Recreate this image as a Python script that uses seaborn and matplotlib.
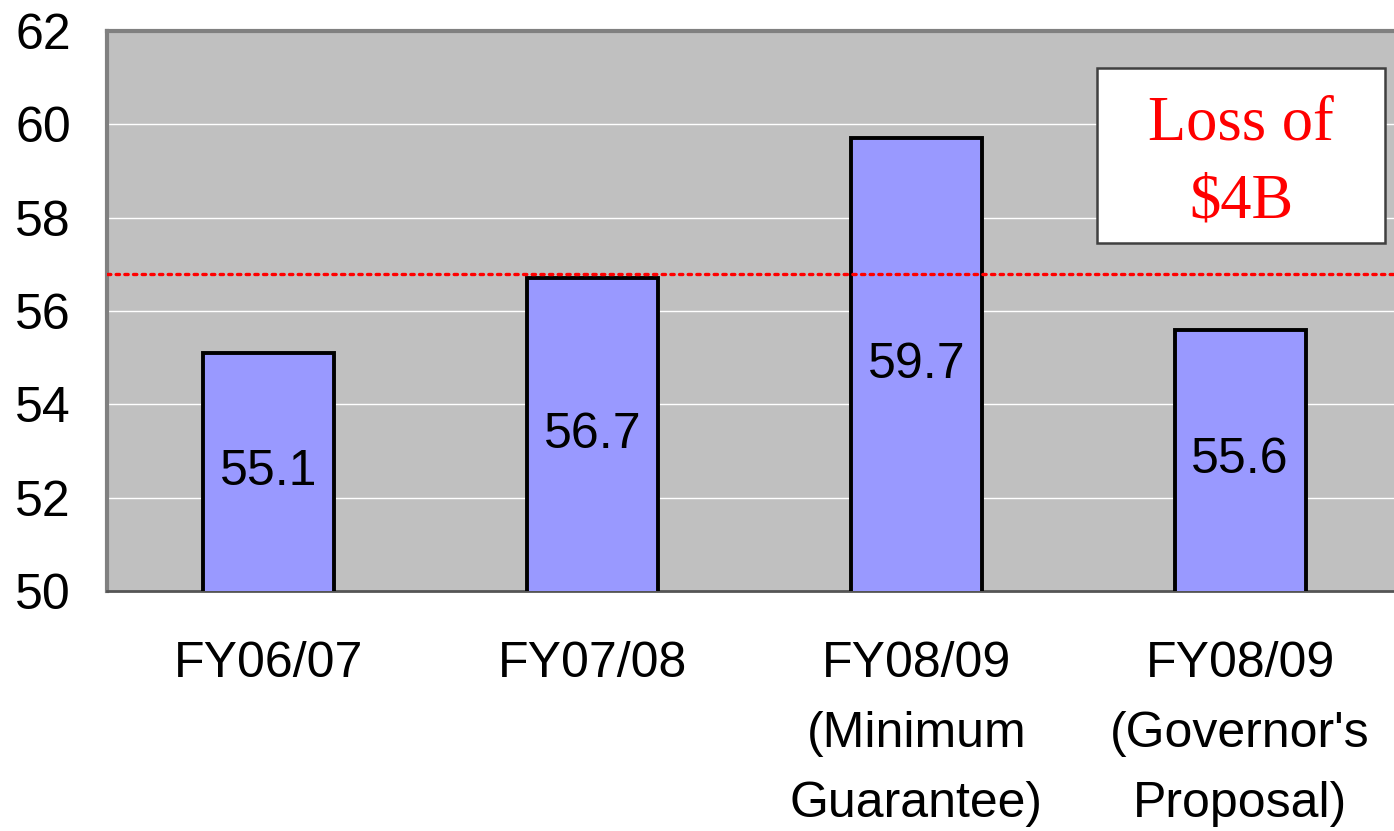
import matplotlib
matplotlib.use("Agg")
import matplotlib.pyplot as plt
from matplotlib.patches import Rectangle
import seaborn as sns
import pandas as pd

# Budget totals ($ billions) per fiscal year
categories = ["FY06/07", "FY07/08", "FY08/09\n(Minimum\nGuarantee)", "FY08/09\n(Governor's\nProposal)"]
values = [55.1, 56.7, 59.7, 55.6]
reference_level = 56.8
y_ticks = [50, 52, 54, 56, 58, 60, 62]
callout_text = "Loss of\n$4B"

sns.set_style("white")
plt.rcParams["font.family"] = ["Liberation Sans", "DejaVu Sans"]

df = pd.DataFrame({"year": categories, "amount": values})

fig = plt.figure(figsize=(13.94, 8.31), dpi=100)
ax = fig.add_axes([107 / 1394, 240 / 831, 1295 / 1394, 560 / 831])
ax.set_facecolor("#C0C0C0")

sns.barplot(data=df, x="year", y="amount", ax=ax, color="#9999FF", saturation=1,
            width=0.405, edgecolor="black", linewidth=2.8, zorder=3)

ax.set_ylim(50, 62)
ax.set_xlim(-0.5, 3.5)
ax.set_yticks(y_ticks)
ax.set_yticklabels([str(t) for t in y_ticks], fontsize=36, color="black")
ax.set_xticks(range(len(categories)))
ax.set_xticklabels(categories, fontsize=36, color="black", linespacing=1.66)
ax.set_xlabel("")
ax.set_ylabel("")

# white horizontal gridlines
for t in y_ticks[1:-1]:
    ax.axhline(t, color="white", lw=1, zorder=1)

# dotted red reference line
ax.axhline(reference_level, color="red", lw=2.4, linestyle=(0, (1, 1.6)),
           dash_capstyle="round", zorder=4)

# value labels centred inside each bar
for i, v in enumerate(values):
    ax.text(i, (50 + v) / 2, f"{v:.1f}", ha="center", va="center",
            fontsize=36, color="black", zorder=5)

ax.tick_params(axis="y", length=0, pad=26)
ax.tick_params(axis="x", length=0, pad=36)

for side in ["left", "top"]:
    ax.spines[side].set_color("#808080")
    ax.spines[side].set_linewidth(3)
ax.spines["bottom"].set_color("#555555")
ax.spines["bottom"].set_linewidth(2)
ax.spines["right"].set_visible(False)

# callout box
box = Rectangle((0.7645, 0.621), 0.2224, 0.313, transform=ax.transAxes,
                facecolor="white", edgecolor="#404040", lw=1.8, zorder=6)
ax.add_patch(box)
ax.text(0.8757, 0.763, callout_text, transform=ax.transAxes, ha="center", va="center",
        fontsize=45, color="red", family=["Liberation Serif", "DejaVu Serif"],
        linespacing=1.45, zorder=7)

fig.savefig("out.png", dpi=100)
